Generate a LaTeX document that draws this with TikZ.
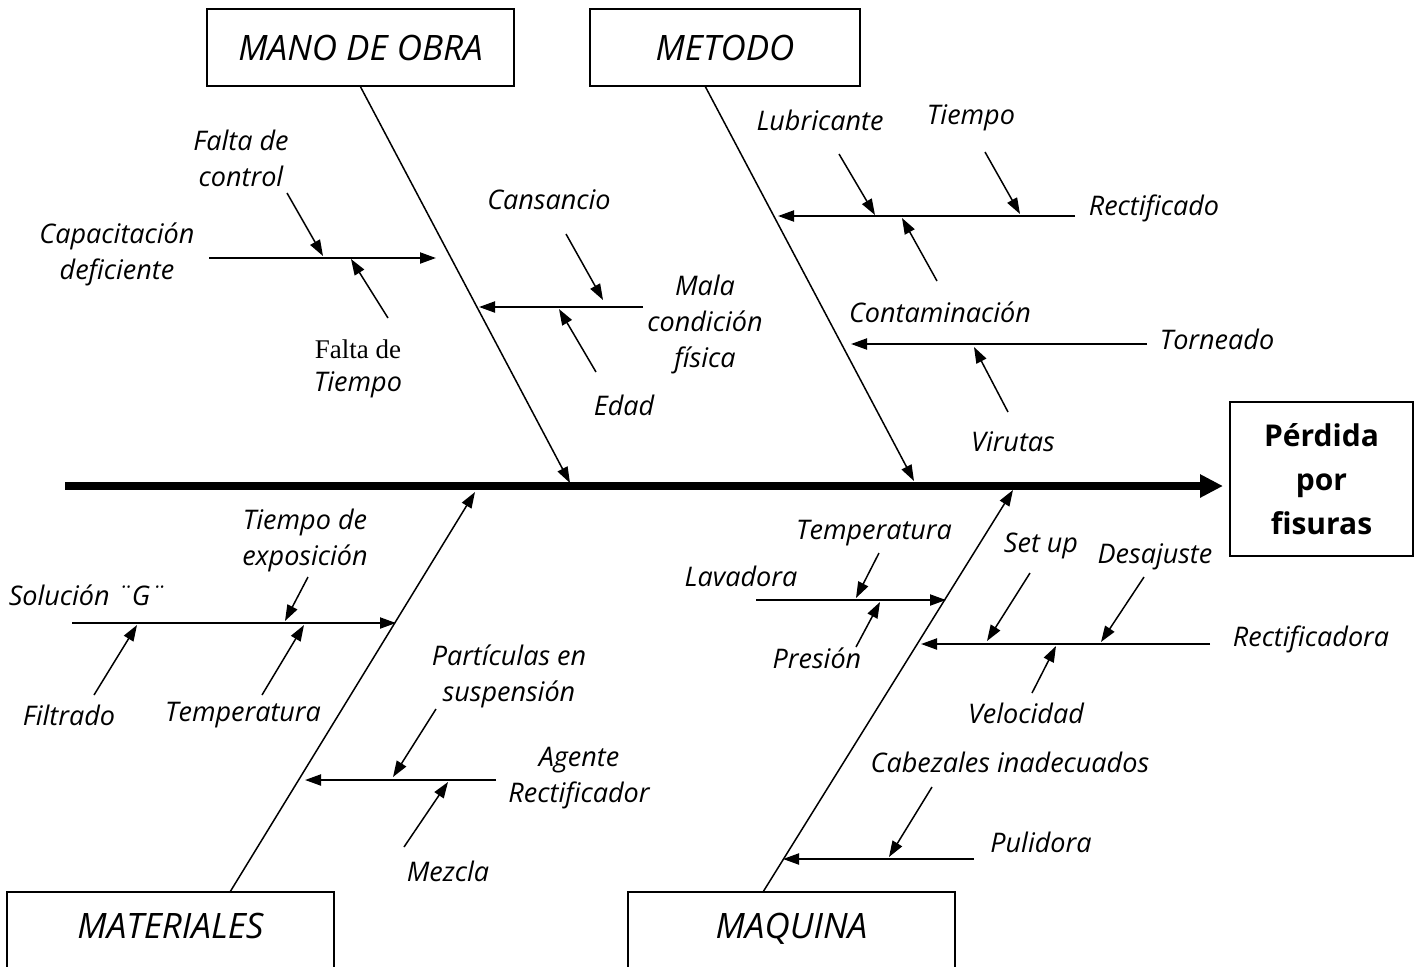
\documentclass[tikz,border=0pt]{standalone}
\usepackage{fontspec}
\setmainfont{Open Sans}
\newfontfamily\timesfont{Liberation Serif}
\usetikzlibrary{arrows.meta}
\tikzset{
  lbl/.style={font=\fontsize{13.5}{18}\selectfont\itshape, align=center, inner sep=0pt},
  catlbl/.style={font=\fontsize{17.5}{21}\selectfont\itshape},
  catbox/.style={draw, line width=0.8pt, inner sep=0pt},
  effbox/.style={draw, line width=0.8pt, inner sep=0pt, align=center,
    font=\fontsize{15}{22}\selectfont\bfseries},
  bone/.style={line width=0.75pt, -{Triangle[length=8pt,width=5.5pt]}},
  branch/.style={line width=1pt, -{Triangle[length=8pt,width=5.5pt]}},
  sub/.style={line width=0.75pt, -{Triangle[length=8pt,width=5.5pt]}},
  spine/.style={line width=4pt, -{Triangle[length=11.5pt,width=11pt]}},
}
\begin{document}
\begin{tikzpicture}[x=0.5pt,y=-0.5pt]
\useasboundingbox (0,0) rectangle (1421,966);
% category boxes
\node[catbox, catlbl, minimum width=153.5pt, minimum height=38.5pt] (mano) at (360.5,47.5) {MANO DE OBRA};
\node[catbox, catlbl, minimum width=135pt, minimum height=38.5pt] (meto) at (725,47.5) {METODO};
\node[catbox, catlbl, minimum width=163.5pt, minimum height=50pt, text depth=16pt] (mat) at (170.5,942) {MATERIALES};
\node[catbox, catlbl, minimum width=163.5pt, minimum height=50pt, text depth=16pt] (maq) at (791.5,942) {MAQUINA};
\node[effbox, minimum width=91.5pt, minimum height=77pt] (eff) at (1321.5,479) {P\'erdida\\por\\fisuras};

% spine
\coordinate (sp0) at (65,486);
\coordinate (sp1) at (1223,486);
\draw[spine] (sp0) -- (sp1);

% main bones
\coordinate (manoT) at (570,483);
\coordinate (metoS) at (705,86);
\coordinate (metoT) at (914,481);
\coordinate (matS) at (230,892);
\coordinate (matT) at (475,492);
\coordinate (maqS) at (763,892);
\coordinate (maqT) at (1013,490);
\draw[bone] (mano.south) -- (manoT);
\draw[bone] (metoS) -- (metoT);
\draw[bone] (matS) -- (matT);
\draw[bone] (maqS) -- (maqT);

% labels
\node[lbl] (cap) at (117,254) {Capacitación\\deficiente};
\node[lbl] (fdc) at (241,158) {Falta de\\control};
\node[lbl, font=\fontsize{13.5}{16.5}\selectfont\itshape] (fdt) at (358,369) {{\timesfont\upshape Falta de}\\Tiempo};
\node[lbl] (cans) at (549,200) {Cansancio};
\node[lbl] (mala) at (705,324) {Mala\\condición\\física};
\node[lbl] (edad) at (624,405) {Edad};
\node[lbl] (lub) at (820,120) {Lubricante};
\node[lbl] (tiem) at (971,118) {Tiempo};
\node[lbl] (rect) at (1154,208) {Rectificado};
\node[lbl] (cont) at (940,312) {Contaminación};
\node[lbl] (torn) at (1217,339) {Torneado};
\node[lbl] (vir) at (1013,442) {Virutas};
\node[lbl] (sol) at (87,595) {Solución ¨G¨};
\node[lbl] (tde) at (305,540) {Tiempo de\\exposición};
\node[lbl] (filt) at (69,715) {Filtrado};
\node[lbl] (tmpa) at (243,715) {Temperatura};
\node[lbl] (part) at (509,676) {Partículas en\\suspensión};
\node[lbl] (agen) at (579,778) {Agente\\Rectificador};
\node[lbl] (mez) at (448,871) {Mezcla};
\node[lbl] (tmpb) at (874,533) {Temperatura};
\node[lbl] (lav) at (741,576) {Lavadora};
\node[lbl] (pres) at (817,658) {Presión};
\node[lbl] (setup) at (1041,546) {Set up};
\node[lbl] (desa) at (1155,557) {Desajuste};
\node[lbl] (rtfa) at (1311,639) {Rectificadora};
\node[lbl] (velo) at (1026,713) {Velocidad};
\node[lbl] (cabe) at (1010,762) {Cabezales inadecuados};
\node[lbl] (puli) at (1041,842) {Pulidora};

% branches
\coordinate (b1a) at (209,258);  \coordinate (b1b) at (436,258);
\coordinate (b2a) at (643,307);  \coordinate (b2b) at (479,307);
\coordinate (b3a) at (1075,216); \coordinate (b3b) at (778,216);
\coordinate (b4a) at (1147,344); \coordinate (b4b) at (851,344);
\coordinate (b5a) at (72,623);   \coordinate (b5b) at (396,623);
\coordinate (b6a) at (496,780);  \coordinate (b6b) at (305,780);
\coordinate (b7a) at (756,600);  \coordinate (b7b) at (946,600);
\coordinate (b8a) at (1210,644); \coordinate (b8b) at (921,644);
\coordinate (b9a) at (974,859);  \coordinate (b9b) at (783,859);
\foreach \i in {1,...,9} {\draw[branch] (b\i a) -- (b\i b);}

% sub-causes
\coordinate (s1a) at (287,193);  \coordinate (s1b) at (323,256);
\coordinate (s2a) at (388,318);  \coordinate (s2b) at (351,259);
\coordinate (s3a) at (566,234);  \coordinate (s3b) at (603,300);
\coordinate (s4a) at (596,372);  \coordinate (s4b) at (559,309);
\coordinate (s5a) at (839,154);  \coordinate (s5b) at (875,215);
\coordinate (s6a) at (985,152);  \coordinate (s6b) at (1020,214);
\coordinate (s7a) at (937,281);  \coordinate (s7b) at (902,218);
\coordinate (s8a) at (1008,412); \coordinate (s8b) at (974,347);
\coordinate (s9a) at (308,577);  \coordinate (s9b) at (285,621);
\coordinate (s10a) at (94,695);  \coordinate (s10b) at (137,625);
\coordinate (s11a) at (262,695); \coordinate (s11b) at (304,625);
\coordinate (s12a) at (436,709); \coordinate (s12b) at (393,777);
\coordinate (s13a) at (404,847); \coordinate (s13b) at (448,782);
\coordinate (s14a) at (879,553); \coordinate (s14b) at (856,598);
\coordinate (s15a) at (856,647); \coordinate (s15b) at (880,602);
\coordinate (s16a) at (1030,573); \coordinate (s16b) at (987,641);
\coordinate (s17a) at (1144,577); \coordinate (s17b) at (1101,642);
\coordinate (s18a) at (1032,693); \coordinate (s18b) at (1056,646);
\coordinate (s19a) at (932,787); \coordinate (s19b) at (889,857);
\foreach \i in {1,...,19} {\draw[sub] (s\i a) -- (s\i b);}
\end{tikzpicture}
\end{document}
